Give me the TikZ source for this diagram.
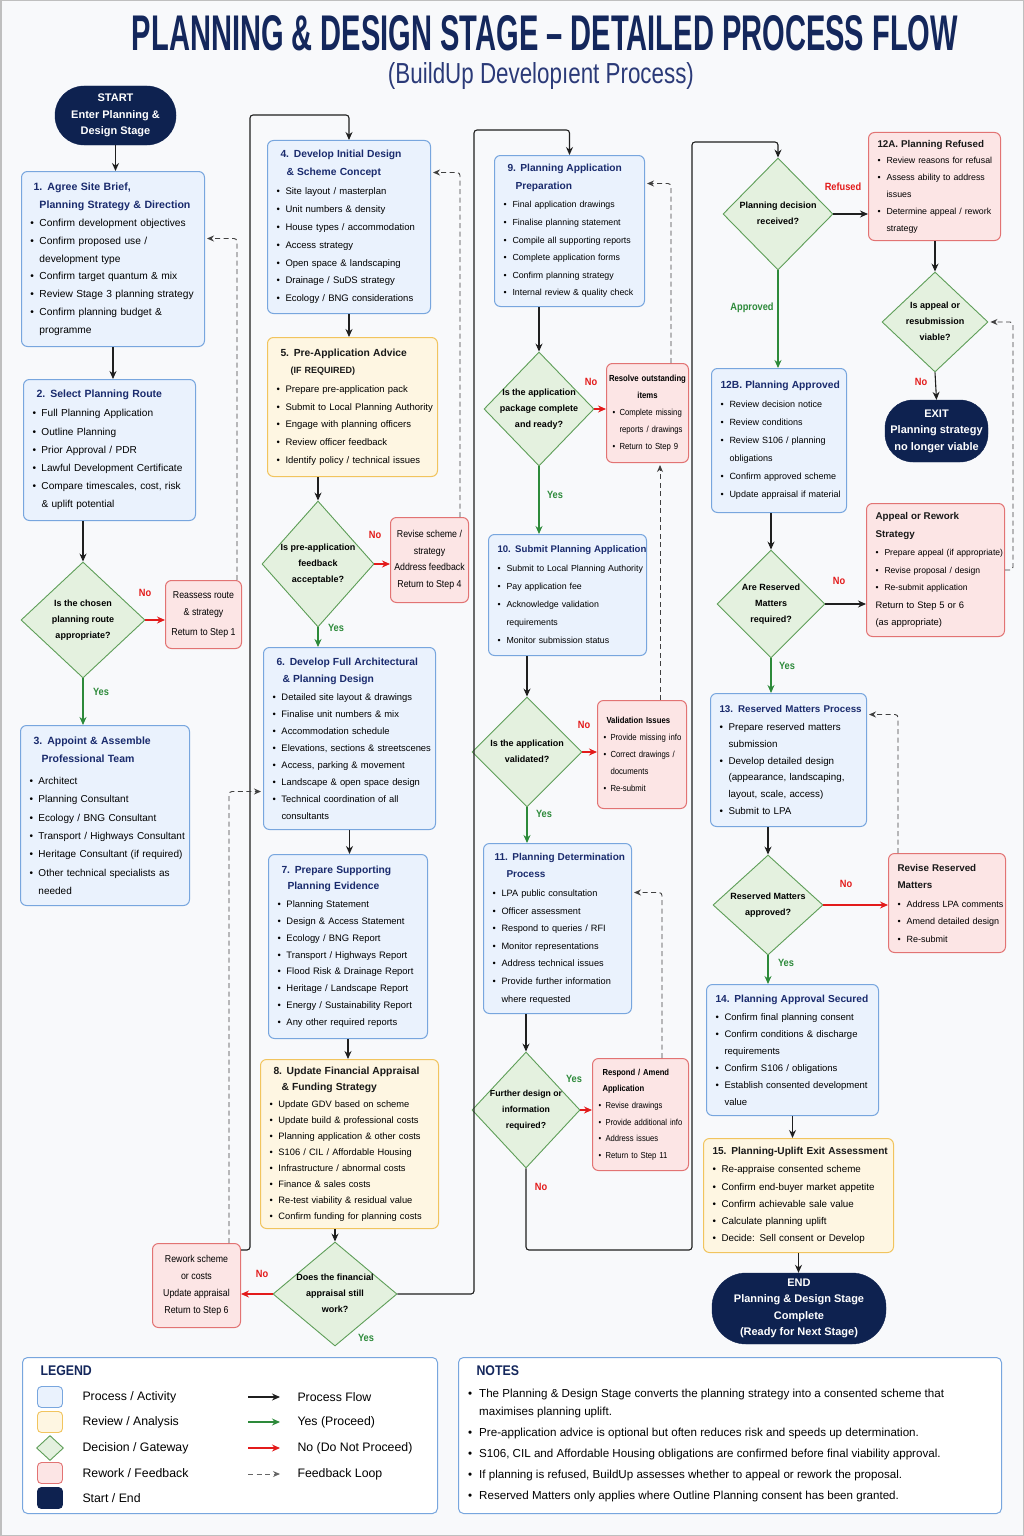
\documentclass[tikz,border=0pt]{standalone}
\usepackage{fontspec}
\usepackage{graphicx}
\setmainfont{Liberation Sans}
\newfontfamily\condfont[FakeStretch=0.88]{Liberation Sans}
\usetikzlibrary{arrows.meta,shapes.geometric}
\definecolor{bgc}{HTML}{F8F9FB}
\definecolor{tnavy}{HTML}{1A2B6D}
\definecolor{hnavy}{HTML}{14275C}
\definecolor{subc}{HTML}{2B3A78}
\definecolor{snavy}{HTML}{0E2250}
\definecolor{pfill}{HTML}{EAF2FD}
\definecolor{pborder}{HTML}{78A6DE}
\definecolor{yfill}{HTML}{FEF6E2}
\definecolor{yborder}{HTML}{F1C45E}
\definecolor{rfill}{HTML}{FCE5E5}
\definecolor{rborder}{HTML}{E27373}
\definecolor{dfill}{HTML}{E4F1DF}
\definecolor{dborder}{HTML}{5E9E58}
\definecolor{ygreen}{HTML}{2D8A3A}
\definecolor{nred}{HTML}{E31B1B}
\newcommand{\fs}[2]{\fontsize{#1}{#2}\selectfont}
\newcommand{\bli}[1]{\mbox{\makebox[9pt][l]{\textbullet}#1}}
\newcommand{\cli}[1]{\mbox{\hspace*{9pt}#1}}
\newcommand{\sbl}[1]{\mbox{\makebox[7pt][l]{\textbullet}#1}}
\newcommand{\scl}[1]{\mbox{\hspace*{7pt}#1}}
\newcommand{\nbl}[1]{\mbox{\makebox[11pt][l]{\textbullet}#1}}
\newcommand{\ncl}[1]{\mbox{\hspace*{11pt}#1}}
\newcommand{\btitle}[2][10.3]{\mbox{\fontsize{#1}{12}\selectfont\bfseries\color{tnavy}#2}}
\newcommand{\ktitle}[2][10.3]{\mbox{\fontsize{#1}{12}\selectfont\bfseries\color{black!90}#2}}
\newcommand{\dtext}[1]{\smash{\makebox[0pt][c]{\raisebox{-2pt}{\begin{tabular}{@{}c@{}}#1\end{tabular}}}}}
\tikzset{
 bxbase/.style={rectangle, rounded corners=6pt, line width=1pt, anchor=north west, align=left, inner xsep=9pt, inner ysep=0pt},
 pbox/.style={bxbase, draw=pborder, fill=pfill},
 ybox/.style={bxbase, draw=yborder, fill=yfill},
 rbox/.style={bxbase, draw=rborder, fill=rfill, inner xsep=6pt, font=\condfont\fs{8.8}{17}},
 rcbox/.style={rectangle, rounded corners=6pt, line width=1pt, anchor=north west, align=center, inner sep=2pt, draw=rborder, fill=rfill, font=\condfont\fs{10}{16.8}},
 dec/.style={diamond, draw=dborder, fill=dfill, line width=0.9pt, inner sep=0pt, font=\bfseries\fs{9}{16}},
 pill/.style={rectangle, fill=snavy, draw=snavy, text=white, align=center, inner sep=2pt, font=\bfseries\fs{11}{16.5}},
 flow/.style={draw=black!88, line width=1.1pt, -{Stealth[length=8pt,width=7pt]}, rounded corners=3pt},
 yesf/.style={flow, draw=ygreen},
 nof/.style={flow, draw=nred},
 fb/.style={draw=black!75, line width=0.9pt, dash pattern=on 5pt off 3.5pt, -{Stealth[length=7pt,width=6pt]}, rounded corners=3pt, shorten >=2pt},
 lyes/.style={text=ygreen, font=\condfont\bfseries\fs{10.5}{12}},
 lno/.style={text=nred, font=\condfont\bfseries\fs{10.5}{12}},
 legbox/.style={rectangle, rounded corners=5pt, draw=pborder, fill=white, line width=1pt, anchor=north west, inner sep=0pt},
 sw/.style={rectangle, rounded corners=4pt, minimum width=25pt, minimum height=21pt, line width=0.9pt, inner sep=0pt},
 legtxt/.style={anchor=west, font=\fs{12.3}{14}},
}
\begin{document}
\begin{tikzpicture}[x=1pt,y=-1pt]
\useasboundingbox (0,0) rectangle (1024,1536);
\fill[bgc] (0,0) rectangle (1024,1536);
\draw[black!25, line width=1.5pt] (0.75,0.75) rectangle (1023.25,1535.25);

% title
\node[text=hnavy, inner sep=0pt] (title) at (545,33) {\resizebox{826pt}{35pt}{\bfseries PLANNING \& DESIGN STAGE – DETAILED PROCESS FLOW}};
\node[text=subc, inner sep=0pt] (subtitle) at (541,76) {\resizebox*{306pt}{27pt}{(BuildUp Developıent Process)}};

% ---------- column 1 ----------
\node[pill, minimum width=121pt, minimum height=59pt, rounded corners=29pt] (start) at (115.5,115.5) {START\\Enter Planning \&\\Design Stage};

\node[pbox, minimum width=183pt, minimum height=175pt, text width=165pt, font=\fs{10.2}{17.7}] (b1) at (21,171) {%
\btitle[10.6]{\hspace*{3pt}1. Agree Site Brief,}\\
\btitle[10.6]{\hspace*{9pt}Planning Strategy \& Direction}\\[1pt]
\bli{Confirm development objectives}\\
\bli{Confirm proposed use /}\\
\cli{development type}\\
\bli{Confirm target quantum \& mix}\\
\bli{Review Stage 3 planning strategy}\\
\bli{Confirm planning budget \&}\\
\cli{programme}};

\node[pbox, minimum width=172pt, minimum height=141pt, text width=154pt, font=\fs{10.1}{18.2}] (b2) at (23,379) {%
\btitle[10.5]{\hspace*{4pt}2. Select Planning Route}\\[1pt]
\bli{Full Planning Application}\\
\bli{Outline Planning}\\
\bli{Prior Approval / PDR}\\
\bli{Lawful Development Certificate}\\
\bli{Compare timescales, cost, risk}\\
\cli{\& uplift potential}};

\node[dec, minimum width=124pt, minimum height=116pt] (d1) at (83,620) {\dtext{Is the chosen\\planning route\\appropriate?}};

\node[rcbox, minimum width=76pt, minimum height=68pt] (r1) at (165,580) {Reassess route\\\& strategy\\[3pt]Return to Step 1};

\node[pbox, minimum width=169pt, minimum height=180pt, text width=151pt, font=\fs{10}{18.3}] (b3) at (20,725) {%
\btitle[10.5]{\hspace*{4pt}3. Appoint \& Assemble}\\
\btitle[10.5]{\hspace*{12pt}Professional Team}\\[4pt]
\bli{Architect}\\
\bli{Planning Consultant}\\
\bli{Ecology / BNG Consultant}\\
\bli{Transport / Highways Consultant}\\
\bli{Heritage Consultant (if required)}\\
\bli{Other technical specialists as}\\
\cli{needed}};

% ---------- column 2 ----------
\node[pbox, minimum width=163pt, minimum height=173pt, text width=145pt, font=\fs{9.5}{17.9}] (b4) at (267,140) {%
\btitle[10.3]{\hspace*{4pt}4. Develop Initial Design}\\
\btitle[10.3]{\hspace*{10pt}\& Scheme Concept}\\[1pt]
\bli{Site layout / masterplan}\\
\bli{Unit numbers \& density}\\
\bli{House types / accommodation}\\
\bli{Access strategy}\\
\bli{Open space \& landscaping}\\
\bli{Drainage / SuDS strategy}\\
\bli{Ecology / BNG considerations}};

\node[ybox, minimum width=170pt, minimum height=139pt, text width=152pt, font=\fs{9.5}{17.7}] (b5) at (267,337) {%
\ktitle[10.3]{\hspace*{4pt}5. Pre-Application Advice}\\
\ktitle[9]{\hspace*{14pt}(IF REQUIRED)}\\[1pt]
\bli{Prepare pre-application pack}\\
\bli{Submit to Local Planning Authority}\\
\bli{Engage with planning officers}\\
\bli{Review officer feedback}\\
\bli{Identify policy / technical issues}};

\node[dec, minimum width=112pt, minimum height=126pt] (d2) at (318,564) {\dtext{Is pre-application\\feedback\\acceptable?}};

\node[rcbox, minimum width=78pt, minimum height=85pt] (r2) at (390,517) {Revise scheme /\\strategy\\Address feedback\\Return to Step 4};

\node[pbox, minimum width=172pt, minimum height=182pt, text width=154pt, font=\fs{9.4}{17}] (b6) at (263,647) {%
\btitle[10.3]{\hspace*{4pt}6. Develop Full Architectural}\\
\btitle[10.3]{\hspace*{10pt}\& Planning Design}\\[1pt]
\bli{Detailed site layout \& drawings}\\
\bli{Finalise unit numbers \& mix}\\
\bli{Accommodation schedule}\\
\bli{Elevations, sections \& streetscenes}\\
\bli{Access, parking \& movement}\\
\bli{Landscape \& open space design}\\
\bli{Technical coordination of all}\\
\cli{consultants}};

\node[pbox, minimum width=159pt, minimum height=184pt, text width=141pt, font=\fs{9.4}{16.8}] (b7) at (268,854) {%
\btitle[10.3]{\hspace*{4pt}7. Prepare Supporting}\\
\btitle[10.3]{\hspace*{10pt}Planning Evidence}\\[1pt]
\bli{Planning Statement}\\
\bli{Design \& Access Statement}\\
\bli{Ecology / BNG Report}\\
\bli{Transport / Highways Report}\\
\bli{Flood Risk \& Drainage Report}\\
\bli{Heritage / Landscape Report}\\
\bli{Energy / Sustainability Report}\\
\bli{Any other required reports}};

\node[ybox, minimum width=178pt, minimum height=169pt, text width=160pt, font=\fs{9.3}{16}] (b8) at (260,1059) {%
\ktitle[10.3]{\hspace*{4pt}8. Update Financial Appraisal}\\
\ktitle[10.3]{\hspace*{12pt}\& Funding Strategy}\\[1pt]
\bli{Update GDV based on scheme}\\
\bli{Update build \& professional costs}\\
\bli{Planning application \& other costs}\\
\bli{S106 / CIL / Affordable Housing}\\
\bli{Infrastructure / abnormal costs}\\
\bli{Finance \& sales costs}\\
\bli{Re-test viability \& residual value}\\
\bli{Confirm funding for planning costs}};

\node[dec, minimum width=124pt, minimum height=104pt] (d3) at (335,1294) {\dtext{Does the financial\\appraisal still\\work?}};

\node[rcbox, minimum width=88pt, minimum height=84pt] (r3) at (152,1243) {Rework scheme\\or costs\\Update appraisal\\Return to Step 6};

% ---------- column 3 ----------
\node[pbox, minimum width=150pt, minimum height=151pt, text width=132pt, font=\fs{8.8}{17.6}] (b9) at (494,155) {%
\btitle[10.2]{\hspace*{4pt}9. Planning Application}\\
\btitle[10.2]{\hspace*{12pt}Preparation}\\[1pt]
\bli{Final application drawings}\\
\bli{Finalise planning statement}\\
\bli{Compile all supporting reports}\\
\bli{Complete application forms}\\
\bli{Confirm planning strategy}\\
\bli{Internal review \& quality check}};

\node[dec, minimum width=110pt, minimum height=114pt] (d4) at (539,409) {\dtext{Is the application\\package complete\\and ready?}};

\node[rbox, minimum width=82pt, minimum height=99pt, text width=70pt] (r4) at (606,363) {%
\makebox[70pt][c]{\bfseries Resolve outstanding}\\
\makebox[70pt][c]{\bfseries items}\\
\sbl{Complete missing}\\
\scl{reports / drawings}\\
\sbl{Return to Step 9}};

\node[pbox, minimum width=158pt, minimum height=121pt, text width=140pt, font=\fs{8.8}{18}] (b10) at (488,534) {%
\btitle[9.6]{10. Submit Planning Application}\\[1pt]
\bli{Submit to Local Planning Authority}\\
\bli{Pay application fee}\\
\bli{Acknowledge validation}\\
\cli{requirements}\\
\bli{Monitor submission status}};

\node[dec, minimum width=110pt, minimum height=110pt] (d5) at (527,752) {\dtext{Is the application\\validated?}};

\node[rbox, minimum width=89pt, minimum height=108pt, text width=77pt] (r5) at (597,700) {%
\mbox{\hspace*{3pt}\bfseries Validation Issues}\\
\sbl{Provide missing info}\\
\sbl{Correct drawings /}\\
\scl{documents}\\
\sbl{Re-submit}};

\node[pbox, minimum width=148pt, minimum height=170pt, text width=130pt, font=\fs{9.2}{17.6}] (b11) at (483,843) {%
\btitle[10]{\hspace*{2pt}11. Planning Determination}\\
\btitle[10]{\hspace*{14pt}Process}\\[1pt]
\bli{LPA public consultation}\\
\bli{Officer assessment}\\
\bli{Respond to queries / RFI}\\
\bli{Monitor representations}\\
\bli{Address technical issues}\\
\bli{Provide further information}\\
\cli{where requested}};

\node[dec, minimum width=108pt, minimum height=116pt, font=\bfseries\fs{8.7}{16}] (d6) at (526,1110) {\dtext{Further design or\\information\\required?}};

\node[rbox, minimum width=96pt, minimum height=112pt, text width=84pt, font=\condfont\fs{8.7}{16.6}] (r6) at (592,1058) {%
\mbox{\hspace*{4pt}\bfseries Respond / Amend}\\
\mbox{\hspace*{4pt}\bfseries Application}\\
\sbl{Revise drawings}\\
\sbl{Provide additional info}\\
\sbl{Address issues}\\
\sbl{Return to Step 11}};

% ---------- column 4 ----------
\node[dec, minimum width=110pt, minimum height=112pt] (d7) at (778,214) {\dtext{Planning decision\\received?}};

\node[rbox, minimum width=132pt, minimum height=108pt, text width=114pt, inner xsep=9pt, font=\fs{8.8}{16.8}] (a12) at (868,132) {%
\ktitle[9.8]{12A. Planning Refused}\\
\bli{Review reasons for refusal}\\
\bli{Assess ability to address}\\
\cli{issues}\\
\bli{Determine appeal / rework}\\
\cli{strategy}};

\node[dec, minimum width=106pt, minimum height=100pt] (d8) at (935,322) {\dtext{Is appeal or\\resubmission\\viable?}};

\node[pill, minimum width=103pt, minimum height=62pt, rounded corners=28pt] (exit) at (936.5,431) {EXIT\\Planning strategy\\no longer viable};

\node[pbox, minimum width=135pt, minimum height=144pt, text width=117pt, font=\fs{9}{18}] (b12) at (711,368) {%
\btitle[10.3]{12B. Planning Approved}\\[1pt]
\bli{Review decision notice}\\
\bli{Review conditions}\\
\bli{Review S106 / planning}\\
\cli{obligations}\\
\bli{Confirm approved scheme}\\
\bli{Update appraisal if material}};

\node[rbox, minimum width=138pt, minimum height=133pt, text width=120pt, inner xsep=9pt, font=\fs{8.6}{17.5}] (ap) at (866,503) {%
\ktitle[9.8]{Appeal or Rework}\\
\ktitle[9.8]{Strategy}\\[1pt]
\bli{Prepare appeal (if appropriate)}\\
\bli{Revise proposal / design}\\
\bli{Re-submit application}\\
\mbox{\fs{9.4}{17.5}Return to Step 5 or 6}\\
\mbox{\fs{9.4}{17.5}(as appropriate)}};

\node[dec, minimum width=108pt, minimum height=108pt] (d9) at (771,604) {\dtext{Are Reserved\\Matters\\required?}};

\node[pbox, minimum width=156pt, minimum height=133pt, text width=138pt, font=\fs{9.8}{16.8}] (b13) at (710,693) {%
\btitle[9.8]{13. Reserved Matters Process}\\[1pt]
\bli{Prepare reserved matters}\\
\cli{submission}\\
\bli{Develop detailed design}\\
\cli{(appearance, landscaping,}\\
\cli{layout, scale, access)}\\
\bli{Submit to LPA}};

\node[dec, minimum width=110pt, minimum height=100pt] (d10) at (768,905) {\dtext{Reserved Matters\\approved?}};

\node[rbox, minimum width=117pt, minimum height=99pt, text width=99pt, inner xsep=9pt, font=\fs{9}{17.5}] (rrm) at (888,853) {%
\ktitle[9.8]{Revise Reserved}\\
\ktitle[9.8]{Matters}\\[1pt]
\bli{Address LPA comments}\\
\bli{Amend detailed design}\\
\bli{Re-submit}};

\node[pbox, minimum width=172pt, minimum height=131pt, text width=154pt, font=\fs{9.5}{17}] (b14) at (706,984) {%
\btitle[10.2]{14. Planning Approval Secured}\\[1pt]
\bli{Confirm final planning consent}\\
\bli{Confirm conditions \& discharge}\\
\cli{requirements}\\
\bli{Confirm S106 / obligations}\\
\bli{Establish consented development}\\
\cli{value}};

\node[ybox, minimum width=190pt, minimum height=114pt, text width=172pt, font=\fs{9.8}{17.3}] (b15) at (703,1138) {%
\ktitle[10.1]{15. Planning-Uplift Exit Assessment}\\[1pt]
\bli{Re-appraise consented scheme}\\
\bli{Confirm end-buyer market appetite}\\
\bli{Confirm achievable sale value}\\
\bli{Calculate planning uplift}\\
\bli{Decide: Sell consent or Develop}};

\node[pill, minimum width=174pt, minimum height=71pt, rounded corners=34pt] (end) at (799,1308.5) {END\\Planning \& Design Stage\\Complete\\(Ready for Next Stage)};

% ---------- connectors ----------
\draw[flow] (start.south) -- (start.south |- b1.north);
\draw[flow] (b1.south) -- (b1.south |- b2.north);
\draw[flow] (d1.north |- b2.south) -- (d1.north);
\draw[nof] (d1.east) -- (d1.east -| r1.west);
\draw[yesf] (d1.south) -- (d1.south |- b3.north);
\draw[fb] ([xshift=-5pt]r1.north east) |- ([yshift=20.5pt]b1.east);

\draw[flow] ([yshift=-7pt]r3.north east) -- (250,1250) -- (250,115) -| (b4.north);
\draw[flow] (b4.south) -- (b4.south |- b5.north);
\draw[flow] (d2.north |- b5.south) -- (d2.north);
\draw[nof] (d2.east) -- (d2.east -| r2.west);
\draw[fb] ([xshift=-9pt]r2.north east) |- ([yshift=54.5pt]b4.east);
\draw[yesf] (d2.south) -- (d2.south |- b6.north);
\draw[flow] (b6.south) -- (b6.south |- b7.north);
\draw[flow] (b7.south) -- (b7.south |- b8.north);
\draw[flow] (d3.north |- b8.south) -- (d3.north);
\draw[nof] (d3.west) -- (d3.west -| r3.east);
\draw[fb] ([xshift=-12pt]r3.north east) |- ([yshift=-53pt]b6.west);

\draw[flow] (d3.east) -- (474,1294) -- (474,130) -| (b9.north);
\draw[flow] (d4.north |- b9.south) -- (d4.north);
\draw[nof] (d4.east) -- (d4.east -| r4.west);
\draw[fb] ([xshift=-18pt]r4.north east) |- ([yshift=47.5pt]b9.east);
\draw[yesf] (d4.south) -- (d4.south |- b10.north);
\draw[flow] (d5.north |- b10.south) -- (d5.north);
\draw[nof] (d5.east) -- (d5.east -| r5.west);
\draw[fb] ([xshift=-27pt]r5.north east) -- ([xshift=-29pt]r4.south east);
\draw[yesf] (d5.south) -- (d5.south |- b11.north);
\draw[flow] (d6.north |- b11.south) -- (d6.north);
\draw[nof] (d6.east) -- (d6.east -| r6.west);
\draw[fb] ([xshift=-27pt]r6.north east) |- ([yshift=36pt]b11.east);

\draw[flow] (d6.south) -- (526,1250) -- (692,1250) -- (692,142) -| (d7.north);
\draw[flow] (d7.east) -- (d7.east -| a12.west);
\draw[flow] (d8.north |- a12.south) -- (d8.north);
\draw[flow] (d8.south) -- (exit.north);
\draw[yesf] (d7.south) -- (d7.south |- b12.north);
\draw[flow] (d9.north |- b12.south) -- (d9.north);
\draw[flow] (d9.east) -- (d9.east -| ap.west);
\draw[fb] (ap.east) -- ++(8,0) |- (d8.east);
\draw[yesf] (d9.south) -- (d9.south |- b13.north);
\draw[flow] (d10.north |- b13.south) -- (d10.north);
\draw[nof] (d10.east) -- (d10.east -| rrm.west);
\draw[fb] ([xshift=10pt]rrm.north west) |- ([yshift=45.5pt]b13.east);
\draw[yesf] (d10.south) -- (d10.south |- b14.north);
\draw[flow] (b14.south) -- (b14.south |- b15.north);
\draw[flow] (b15.south) -- (b15.south |- end.north);

% ---------- labels ----------
\node[lno] (nod1) at (145,593) {No};
\node[lyes] (yesd1) at (101,692) {Yes};
\node[lno] (nod2) at (375,535) {No};
\node[lyes] (yesd2) at (336,628) {Yes};
\node[lno] (nod3) at (262,1274) {No};
\node[lyes] (yesd3) at (366,1338) {Yes};
\node[lno] (nod4) at (591,382) {No};
\node[lyes] (yesd4) at (555,495) {Yes};
\node[lno] (nod5) at (584,725) {No};
\node[lyes] (yesd5) at (544,814) {Yes};
\node[lyes] (yesd6) at (574,1079) {Yes};
\node[lno] (nod6) at (541,1187) {No};
\node[lno] (refd7) at (843,187) {Refused};
\node[lyes] (appd7) at (752,308) {Approved};
\node[lno] (nod8) at (921,382) {No};
\node[lno] (nod9) at (839,581) {No};
\node[lyes] (yesd9) at (787,666) {Yes};
\node[lno] (nod10) at (846,884) {No};
\node[lyes] (yesd10) at (786,963) {Yes};

% ---------- legend ----------
\node[legbox, minimum width=415pt, minimum height=156pt] (legend) at (22,1357) {};
\node[anchor=west, text=hnavy, font=\condfont\bfseries\fs{14}{16}] (legt) at (37,1371) {LEGEND};
\node[sw, fill=pfill, draw=pborder] (l1) at (50,1397) {};
\node[sw, fill=yfill, draw=yborder] (l2) at (50,1422) {};
\node[diamond, draw=dborder, fill=dfill, line width=0.9pt, minimum width=27pt, minimum height=25pt, inner sep=0pt] (l3) at (50,1448) {};
\node[sw, fill=rfill, draw=rborder] (l4) at (50,1473) {};
\node[sw, fill=snavy, draw=snavy] (l5) at (50,1498) {};
\node[legtxt] (lt1) at (79,1397) {Process / Activity};
\node[legtxt] (lt2) at (79,1422) {Review / Analysis};
\node[legtxt] (lt3) at (79,1448) {Decision / Gateway};
\node[legtxt] (lt4) at (79,1473) {Rework / Feedback};
\node[legtxt] (lt5) at (79,1498) {Start / End};
\coordinate (la1) at (248,1397); \coordinate (lb1) at (280,1397);
\coordinate (la2) at (248,1422); \coordinate (lb2) at (280,1422);
\coordinate (la3) at (248,1448); \coordinate (lb3) at (280,1448);
\coordinate (la4) at (248,1474); \coordinate (lb4) at (280,1474);
\draw[flow] (la1) -- (lb1);
\draw[yesf] (la2) -- (lb2);
\draw[nof] (la3) -- (lb3);
\draw[fb, draw=black!60, shorten >=0pt] (la4) -- (lb4);
\node[legtxt] (lt6) at (294,1397) {Process Flow};
\node[legtxt] (lt7) at (294,1422) {Yes (Proceed)};
\node[legtxt] (lt8) at (294,1448) {No (Do Not Proceed)};
\node[legtxt] (lt9) at (294,1474) {Feedback Loop};

% ---------- notes ----------
\node[legbox, minimum width=543pt, minimum height=156pt] (notes) at (458,1357) {};
\node[anchor=west, text=hnavy, font=\condfont\bfseries\fs{14}{16}] (notest) at (473,1371) {NOTES};
\node[anchor=north west, align=left, inner sep=0pt, font=\fs{11.6}{18}] (notestext) at (468,1389) {%
\nbl{The Planning \& Design Stage converts the planning strategy into a consented scheme that}\\
\ncl{maximises planning uplift.}\\[3pt]
\nbl{Pre-application advice is optional but often reduces risk and speeds up determination.}\\[3pt]
\nbl{S106, CIL and Affordable Housing obligations are confirmed before final viability approval.}\\[3pt]
\nbl{If planning is refused, BuildUp assesses whether to appeal or rework the proposal.}\\[3pt]
\nbl{Reserved Matters only applies where Outline Planning consent has been granted.}};
\end{tikzpicture}
\end{document}
